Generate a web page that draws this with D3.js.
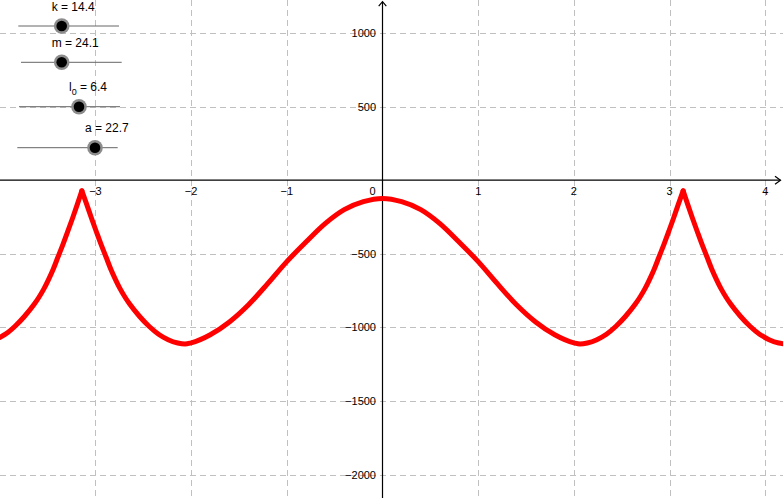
<!DOCTYPE html>
<html>
<head>
<meta charset="utf-8">
<script src="https://cdn.jsdelivr.net/npm/d3@7"></script>
<style>
  html, body { margin: 0; padding: 0; background: #fff; }
  svg { display: block; }
  text { font-family: "Liberation Sans", Arial, sans-serif; fill: #000; }
</style>
</head>
<body>
<svg id="chart" width="783" height="498"></svg>
<script>
// ---- data ----
const xTicks = [-3, -2, -1, 0, 1, 2, 3, 4];
const yTicks = [1000, 500, -500, -1000, -1500, -2000];

// curve, split at the two cusps (x = -π and x = π)
const leftX  = [-4.00, -3.94, -3.84, -3.74, -3.64, -3.59, -3.54, -3.49, -3.44, -3.39, -3.34, -3.29, -3.24, -3.19, -3.1416];
const leftY  = [-1068, -1046, -992, -924, -843, -795, -740, -675, -603, -520, -438, -350, -260, -166, -72];

const midX = [-3.1416, -3.09, -3.04, -2.99, -2.94, -2.89, -2.84, -2.79, -2.74, -2.69, -2.64, -2.54, -2.44, -2.34, -2.24, -2.14, -2.064,
              -2.0, -1.8, -1.6, -1.4, -1.2, -1.0, -0.8, -0.6, -0.4, -0.2, 0,
              0.2, 0.4, 0.6, 0.8, 1.0, 1.2, 1.4, 1.6, 1.8, 2.0, 2.064,
              2.14, 2.24, 2.34, 2.44, 2.54, 2.64, 2.69, 2.74, 2.79, 2.84, 2.89, 2.94, 2.99, 3.04, 3.09, 3.1416];
const midY = [-72, -166, -260, -350, -438, -520, -603, -675, -740, -795, -843, -924, -992, -1046, -1083, -1106, -1113,
              -1105, -1050, -963, -846, -703, -553, -420, -295, -200, -146, -124,
              -146, -200, -295, -420, -553, -703, -846, -963, -1050, -1105, -1113,
              -1106, -1083, -1046, -992, -924, -843, -795, -740, -675, -603, -520, -438, -350, -260, -166, -72];

const rightX = [3.1416, 3.19, 3.24, 3.29, 3.34, 3.39, 3.44, 3.49, 3.54, 3.59, 3.64, 3.74, 3.84, 3.94, 4.04, 4.14, 4.19];
const rightY = [-72, -166, -260, -350, -438, -520, -603, -675, -740, -795, -843, -924, -992, -1046, -1083, -1106, -1111];

// sliders
const sliderNames  = ["k", "m", "l0", "a"];
const sliderValues = ["14.4", "24.1", "6.4", "22.7"];

// ---- drawing ----
const W = 783, H = 498;
const svg = d3.select("#chart");

const x = d3.scaleLinear().domain([-3.997, 4.185]).range([0, W]);
const y = d3.scaleLinear().domain([-2158.6, 1224]).range([H, 0]);

const x0 = x(0), y0 = y(0);

// grid
const grid = svg.append("g").attr("stroke", "#c0c0c0").attr("stroke-width", 1)
  .attr("stroke-dasharray", "6,4").attr("shape-rendering", "crispEdges");
grid.selectAll("line.v").data(xTicks.filter(d => d !== 0)).join("line")
  .attr("x1", d => Math.round(x(d)) + 0.5).attr("x2", d => Math.round(x(d)) + 0.5)
  .attr("y1", 0).attr("y2", H);
grid.selectAll("line.h").data(yTicks).join("line")
  .attr("y1", d => Math.round(y(d)) + 0.5).attr("y2", d => Math.round(y(d)) + 0.5)
  .attr("x1", 0).attr("x2", W);

// axes
const axes = svg.append("g").attr("stroke", "#000").attr("stroke-width", 1.2).attr("fill", "none");
axes.append("line").attr("x1", 0).attr("x2", 780.5).attr("y1", y0).attr("y2", y0);
axes.append("line").attr("x1", x0).attr("x2", x0).attr("y1", 1.7).attr("y2", H);
axes.append("path").attr("d", `M${775},${y0 - 4} L${780.5},${y0} L${775},${y0 + 4}`);
axes.append("path").attr("d", `M${x0 - 3.8},${6.2} L${x0},${1.7} L${x0 + 3.8},${6.2}`);

// tick labels
const fmt = d => (d < 0 ? "\u2212" + Math.abs(d) : String(d));
svg.append("g").selectAll("text").data(xTicks).join("text")
  .attr("x", d => d === 0 ? x0 - 10 : x(d))
  .attr("y", y0 + 14.5)
  .attr("text-anchor", "middle")
  .attr("font-size", "11px")
  .attr("fill", "#222")
  .text(fmt);
svg.append("g").selectAll("text").data(yTicks).join("text")
  .attr("x", x0 - 6.5)
  .attr("y", d => y(d) + 4)
  .attr("text-anchor", "end")
  .attr("font-size", "11px")
  .attr("fill", "#222")
  .text(fmt);

// curve
const line = d3.line().x(d => x(d[0])).y(d => y(d[1])).curve(d3.curveMonotoneX);
const segs = [
  d3.zip(leftX, leftY),
  d3.zip(midX, midY),
  d3.zip(rightX, rightY)
];
svg.append("g").selectAll("path").data(segs).join("path")
  .attr("d", line)
  .attr("fill", "none")
  .attr("stroke", "#ff0000")
  .attr("stroke-width", 5)
  .attr("stroke-linejoin", "round")
  .attr("stroke-linecap", "round");

// sliders (layout)
const sliderLayout = [
  { x1: 18.3, x2: 119,   y: 26,    px: 61.7 },
  { x1: 21,   x2: 121.7, y: 62.3,  px: 61.7 },
  { x1: 19,   x2: 120,   y: 106.7, px: 79 },
  { x1: 17.3, x2: 117.7, y: 147.7, px: 95 }
];
const sl = svg.append("g");
sliderNames.forEach((name, i) => {
  const L = sliderLayout[i];
  const g = sl.append("g");
  g.append("line").attr("x1", L.x1).attr("x2", L.x2).attr("y1", L.y).attr("y2", L.y)
    .attr("stroke", "#666").attr("stroke-width", 1);
  g.append("circle").attr("cx", L.px).attr("cy", L.y).attr("r", 7.8).attr("fill", "#8c8c8c");
  g.append("circle").attr("cx", L.px).attr("cy", L.y).attr("r", 5.3).attr("fill", "#000");
  const t = g.append("text").attr("x", L.px - 10).attr("y", L.y - 15.3).attr("font-size", "12px");
  if (name === "l0") {
    t.append("tspan").text("l");
    t.append("tspan").attr("font-size", "9px").attr("dy", 4).text("0");
    t.append("tspan").attr("dy", -4).text(" = " + sliderValues[i]);
  } else {
    t.text(name + " = " + sliderValues[i]);
  }
});
</script>
</body>
</html>
